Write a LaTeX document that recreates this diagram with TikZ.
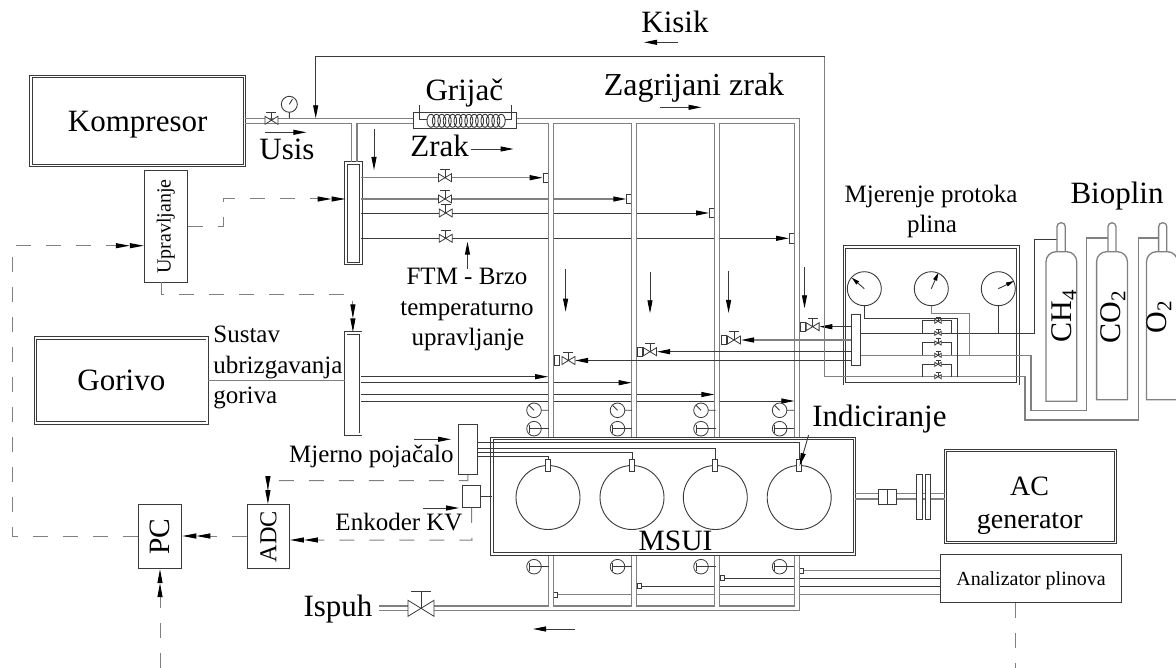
\documentclass[tikz,border=0pt]{standalone}
\usepackage{fontspec}
\setmainfont{Liberation Serif}
\usetikzlibrary{arrows.meta,positioning}
\definecolor{pipedark}{HTML}{3A3A3A}
\definecolor{pipegrey}{HTML}{808080}
\begin{document}
\begin{tikzpicture}[x=1pt,y=-1pt,
  box/.style={draw=pipedark,line width=0.9pt,fill=white,inner sep=0pt,text depth=0pt},
  dbox/.style={box,double,double distance=1.6pt,line width=0.8pt},
  pipe/.style={draw=pipedark,line width=0.9pt},
  gpipe/.style={draw=pipegrey,line width=1.3pt},
  wall/.style={draw=pipegrey,line width=1.2pt},
  flow/.style={draw=pipedark,line width=0.9pt,-{Triangle[length=13pt,width=5pt,black]}},
  gflow/.style={draw=pipegrey,line width=1.3pt,-{Triangle[length=13pt,width=5pt,black]}},
  sigline/.style={draw=pipegrey,line width=1pt,dash pattern=on 15pt off 15pt},
  sig/.style={sigline,-{Triangle[length=14pt,width=5pt,black]Triangle[length=14pt,width=5pt,black]}},
  port/.style={draw=pipedark,line width=0.8pt,fill=white,inner sep=0pt,minimum width=5pt,minimum height=9.5pt},
  aport/.style={port,minimum width=4pt,minimum height=5pt},
  cyl/.style={draw=pipedark,line width=0.9pt,circle,inner sep=0pt,minimum size=64pt},
  plug/.style={port,minimum width=5pt,minimum height=12.4pt},
  lab/.style={inner sep=0pt,anchor=base},
  big/.style={font=\fontsize{31}{36}\selectfont},
  mid/.style={font=\fontsize{25}{31}\selectfont},
  valve/.pic={
    \draw[pipedark,line width=0.8pt,fill=white] (-6.5,-4)--(6.5,4)--(6.5,-4)--(-6.5,4)--cycle;
    \draw[pipedark,line width=0.8pt] (0,0)--(0,-8.3) (-5,-8.3)--(5,-8.3);},
  ngauge/.pic={
    \draw[pipedark,line width=0.8pt,fill=white] (0,0) circle (7.3);
    \draw[pipedark,line width=0.8pt] (0,0)--(-5,-5) (7.3,0)--(14.5,0);},
  tgauge/.pic={
    \draw[pipedark,line width=0.8pt,fill=white] (0,0) circle (7.3);
    \draw[pipedark,line width=0.8pt] (-5,-4)--(-5,4) (-5,0)--(14.5,0);}]
  \useasboundingbox (0,0) rectangle (1176,668);
  \coordinate (topline) at (0,118.3);
  \coordinate (lowline) at (0,123.3);

  \node[dbox,minimum width=213.4pt,minimum height=89.3pt,big] (kompresor) at (137.7,121) {Kompresor};
  \node[dbox,minimum width=171.6pt,minimum height=85pt,big] (gorivo) at (121.4,380.5) {Gorivo};
  \node[box,minimum width=43.2pt,minimum height=111.3pt] (upravljanje) at (165.9,226.6) {\rotatebox{90}{\fontsize{20}{24}\selectfont Upravljanje}};
  \node[box,minimum width=103.2pt,minimum height=16.7pt] (grijac) at (465.2,120.6) {};
  \node[dbox,minimum width=15pt,minimum height=100.5pt] (aman) at (353.4,213.3) {};
  \node[dbox,minimum width=15pt,minimum height=101pt] (fman) at (353.2,383.6) {};
  \node[port] (p1) at (545.6,177.7) {};
  \node[port] (p2) at (629.2,199) {};
  \node[port] (p3) at (711.9,213) {};
  \node[port] (p4) at (791.9,238.3) {};
  \node[aport] (a1) at (801.6,570.4) {};
  \node[aport] (a2) at (722.2,578.3) {};
  \node[aport] (a3) at (639,586.3) {};
  \node[aport] (a4) at (555.4,594.7) {};
  \node[box,minimum width=181.3pt,minimum height=48.7pt,font=\fontsize{20}{24}\selectfont] (analizator) at (1031,578.4) {Analizator plinova};

  \draw[gpipe] (kompresor.east |- topline) -- (grijac.west |- topline);
  \draw[gpipe] (kompresor.east |- lowline) -- (351.8,123.3) -- (351.8,162.3);
  \draw[gpipe] (357,162.3) -- (357,123.3) -- (grijac.west |- lowline);
  \draw[gflow] (aman.east |- p1) -- (p1.west);
  \draw[gflow] (aman.east |- p2) -- (p2.west);
  \draw[flow] (aman.east |- p3) -- (p3.west);
  \draw[flow] (aman.east |- p4) -- (p4.west);
  \draw[gpipe] (gorivo.east) -- (fman.west |- gorivo.east);
  \draw[flow] (fman.east |- 0,376.7) -- (548.2,376.7);
  \draw[flow] (fman.east |- 0,382.7) -- (631.7,382.7);
  \draw[flow] (fman.east |- 0,394.5) -- (714.4,394.5);
  \draw[flow] (fman.east |- 0,401) -- (794.4,401);
  \draw[gpipe] (a1) -- (analizator.west |- a1);
  \draw[pipe] (a2) -- (analizator.west |- a2);
  \draw[pipe] (a3) -- (analizator.west |- a3);
  \draw[gpipe] (a4) -- (analizator.west |- a4);

  \fill[white] (548.2,124) rectangle (553.4,606);
  \fill[white] (631.7,124) rectangle (636.6,606);
  \fill[white] (714.4,124) rectangle (719.7,606);
  \fill[white] (794.4,124) rectangle (799.6,606);
  \draw[wall] (grijac.east |- topline) -- (799.6,118.3) -- (799.6,610.7) -- (434,610.7);
  \draw[wall] (grijac.east |- lowline) -- (548.2,123.3) -- (548.2,606) -- (434,606);
  \draw[wall] (553.4,123.3) rectangle (631.7,606);
  \draw[wall] (636.6,123.3) rectangle (714.4,606);
  \draw[wall] (719.7,123.3) rectangle (794.4,606);
  \draw[gpipe] (379,606) -- (408,606) (379,610.7) -- (408,610.7);
  \pic[scale=2] at (421,608.3) {valve};

  \pic at (271.4,120.3) {valve};
  \draw[pipedark,line width=0.9pt,fill=white] (289.3,104.3) circle (8);
  \draw[pipedark,line width=0.9pt] (289.3,104.3) -- (292.5,99) (289.3,112.3) -- (289.3,118.3);
  \pic at (445,177.7) {valve};
  \pic at (445,199) {valve};
  \pic at (445.7,213) {valve};
  \pic at (445.7,238.3) {valve};

  \draw[pipedark,line width=0.9pt] (419.6,105) -- (419.6,119.3) -- (427,119.3) (511.8,105) -- (511.8,119.3) -- (505,119.3);
  \draw[pipedark,line width=0.9pt] (431,120.8) ellipse (4 and 6.5) (436.4,120.8) ellipse (4 and 6.5) (441.8,120.8) ellipse (4 and 6.5) (447.2,120.8) ellipse (4 and 6.5) (452.6,120.8) ellipse (4 and 6.5)
    (458,120.8) ellipse (4 and 6.5) (463.4,120.8) ellipse (4 and 6.5) (468.8,120.8) ellipse (4 and 6.5) (474.2,120.8) ellipse (4 and 6.5) (479.6,120.8) ellipse (4 and 6.5)
    (485,120.8) ellipse (4 and 6.5) (490.4,120.8) ellipse (4 and 6.5) (495.8,120.8) ellipse (4 and 6.5) (501.2,120.8) ellipse (4 and 6.5);

  \pic at (534,410.3) {ngauge};
  \pic at (534,428.7) {tgauge};
  \pic at (534,566.7) {tgauge};
  \pic at (617.5,410.3) {ngauge};
  \pic at (617.5,428.7) {tgauge};
  \pic at (617.5,566.7) {tgauge};
  \pic at (701,410.3) {ngauge};
  \pic at (701,428.7) {tgauge};
  \pic at (701,566.7) {tgauge};
  \pic at (779.6,410.3) {ngauge};
  \pic at (779.6,428.7) {tgauge};
  \pic at (779.6,566.7) {tgauge};

  \node[dbox,minimum width=362.6pt,minimum height=115.3pt] (msui) at (673.3,496.3) {};
  \node[cyl] (c1) at (548,497.5) {};
  \node[cyl] (c2) at (632,497.5) {};
  \node[cyl] (c3) at (715.3,497.5) {};
  \node[cyl] (c4) at (799.2,497.5) {};
  \node[plug] (s1) at (548,465.5) {};
  \node[plug] (s2) at (632,465.5) {};
  \node[plug] (s3) at (715.3,465.5) {};
  \node[plug] (s4) at (799.2,465.5) {};
  \node[box,minimum width=19.7pt,minimum height=50pt] (pojacalo) at (468,449.3) {};
  \node[box,minimum width=17.9pt,minimum height=22pt] (enkoder) at (471.5,496.3) {};
  \node[box,minimum width=43.6pt,minimum height=64.4pt] (pc) at (160,536.5) {\rotatebox{90}{\fontsize{29.5}{34}\selectfont PC}};
  \node[box,minimum width=42.2pt,minimum height=63.7pt,right=64.6pt of pc] (adc) {\rotatebox{90}{\fontsize{24.3}{29}\selectfont ADC}};
  \draw[pipe] (pojacalo.east |- 0,442.7) -| (s4.north);
  \draw[pipe] (pojacalo.east |- 0,448.3) -| (s3.north);
  \draw[pipe] (pojacalo.east |- 0,452.3) -| (s2.north);
  \draw[pipe] (pojacalo.east |- 0,456.7) -| (s1.north);
  \draw[pipe] (enkoder.east) -- (msui.west |- enkoder);

  \node[dbox,minimum width=170pt,minimum height=92pt] (generator) at (1030.5,496.3) {};
  \draw[gpipe] (msui.east |- 0,493.7) -- (generator.west |- 0,493.7);
  \draw[gpipe] (msui.east |- 0,499) -- (generator.west |- 0,499);
  \node[box,minimum width=17.9pt,minimum height=14.7pt] (coupler) at (887.2,496.6) {};
  \draw[pipe] (coupler.north) -- (coupler.south);
  \node[box,minimum width=5.5pt,minimum height=44.7pt] (disca) at (919.2,496.6) {};
  \node[box,minimum width=5.5pt,minimum height=44.7pt] (discb) at (927.8,496.6) {};

  \node[dbox,minimum width=173.7pt,minimum height=136.7pt,fill=none] (mjerenje) at (931.2,315.4) {};
  \node[box,minimum width=9.4pt,minimum height=51.4pt] (gman) at (856,340) {};
  \node[port] (q1) at (802.6,326.7) {};
  \node[port] (q2) at (640,351.7) {};
  \node[port] (q3) at (723.5,340) {};
  \node[port] (q4) at (556.5,360.5) {};
  \draw[flow] (gman.west |- q1) -- (819.3,326.7);
  \draw[gflow] (gman.west |- q3) -- (741,340);
  \draw[flow] (gman.west |- q2) -- (657,351.7);
  \draw[flow] (gman.west |- q4) -- (575,360.5);
  \pic at (812.6,326.7) {valve};
  \pic at (734,340) {valve};
  \pic at (650,351.7) {valve};
  \pic at (568.4,360.5) {valve};

  \draw[pipe] (gman.east |- 0,333.3) -- (1034,333.3) -- (1034,239) -- (1057,239);
  \draw[gpipe] (gman.east |- 0,355.3) -- (1031,355.3) -- (1031,410.7) -- (1086.5,410.7) -- (1086.5,238) -- (1108,238);
  \draw[gpipe] (1158.6,238) -- (1138.4,238) -- (1138.4,420) -- (1025,420) -- (1025,376.7) -- (824.8,376.7) -- (824.8,56.3);
  \draw[flow] (824.8,56.3) -- (315.7,56.3) -- (315.7,118.3);

  \node[cyl,minimum size=34pt] (g1) at (864.3,288.7) {};
  \node[cyl,minimum size=34pt] (g2) at (931.3,288.7) {};
  \node[cyl,minimum size=34pt] (g3) at (998.3,288.7) {};
  \draw[pipedark,line width=0.9pt,-{Triangle[length=8pt,width=4pt,black]}] (g1.center) -- (851.7,277.7);
  \draw[pipedark,line width=0.9pt,-{Triangle[length=8pt,width=4pt,black]}] (g2.center) -- (938.3,272.7);
  \draw[pipedark,line width=0.9pt,-{Triangle[length=8pt,width=4pt,black]}] (g3.center) -- (1014,281);
  \draw[pipe] (g1.south) -- (864.3,318.3) -- (957.7,318.3) -- (957.7,376.7);
  \draw[gpipe] (g2.south) -- (931.3,313.7) -- (969.3,313.7) -- (969.3,355.3);
  \draw[pipe] (g3.south) -- (998.3,333.3);
  \draw[pipe] (922.3,333.3) -- (922.3,320) -- (951.7,320) -- (951.7,333.3);
  \draw[pipe] (922.3,355.3) -- (922.3,342.7) -- (951.7,342.7) -- (951.7,355.3);
  \draw[pipe] (922.3,376.7) -- (922.3,364.3) -- (951.7,364.3) -- (951.7,376.7);
  \pic[scale=.5] at (938,321.3) {valve};
  \pic[scale=.5] at (938,333.3) {valve};
  \pic[scale=.5] at (938,343) {valve};
  \pic[scale=.5] at (938,355.3) {valve};
  \pic[scale=.5] at (938,364.3) {valve};
  \pic[scale=.5] at (938,376.7) {valve};

  \draw[gpipe,rounded corners=10pt,fill=white] (1046,401.3) -- (1046,251.7) -- (1076.7,251.7) [sharp corners] -- (1076.7,401.3) -- cycle;
  \draw[gpipe,rounded corners=10pt,fill=white] (1096.6,399.7) -- (1096.6,251.7) -- (1127.4,251.7) [sharp corners] -- (1127.4,399.7) -- cycle;
  \draw[gpipe,rounded corners=10pt,fill=white] (1146.5,399.7) -- (1146.5,251.7) -- (1177.5,251.7) [sharp corners] -- (1177.5,399.7) -- cycle;
  \draw[gpipe,rounded corners=4pt] (1057,251.7) -- (1057,222.7) -- (1065.3,222.7) -- (1065.3,251.7);
  \draw[gpipe,rounded corners=4pt] (1108,251.7) -- (1108,222.7) -- (1116,222.7) -- (1116,251.7);
  \draw[gpipe,rounded corners=4pt] (1158.6,251.7) -- (1158.6,222.7) -- (1166.8,222.7) -- (1166.8,251.7);

  \draw[sig] (upravljanje.east) -- (223,226.6) -- (223,199) -- (aman.west |- 0,199);
  \draw[sig] (pc.west |- 0,536.7) -- (12.5,536.7) -- (12.5,245.7) -- (upravljanje.west |- 0,245.7);
  \draw[sig] (161.4,282.3) -- (161.4,294.3) -- (352.9,294.3) -- (352.9,332.3);
  \draw[sig] (pojacalo.south) -- (467.9,480.7) -- (267.9,480.7) -- (adc.north -| 267.9,0);
  \draw[sig] (enkoder.south) -- (472,540) -- (adc.east |- 0,540);
  \draw[sig] (adc.west |- 0,536) -- (pc.east |- 0,536);
  \draw[sig] (pc.south |- 0,668) -- (pc.south);
  \draw[sigline] (analizator.south -| 1015,0) -- (1015,668);

  \draw[flow] (678,42.3) -- (644,42.3);
  \draw[flow] (659.7,107.3) -- (701.5,107.3);
  \draw[flow] (265,132.3) -- (306.4,132.3);
  \draw[flow] (471.4,149) -- (513.6,149);
  \draw[flow] (374,129) -- (374,170);
  \draw[flow] (565.6,269.3) -- (565.6,311.7);
  \draw[flow] (650,271.7) -- (650,313.3);
  \draw[flow] (728.6,271) -- (728.6,313);
  \draw[flow] (804.5,266.7) -- (804.5,308.3);
  \draw[flow] (467.5,269.3) -- (467.5,241.7);
  \draw[flow] (574.5,629) -- (533,629);
  \draw[flow] (414,439.3) -- (451,439.3);
  \draw[flow] (423,508) -- (459,508);
  \draw[flow] (808.6,435) -- (799.6,466);

  \node[lab,big] (kisik) at (675,32.7) {Kisik};
  \node[lab,big] (grijaclab) at (464.3,100.7) {Grijač};
  \node[lab,big,font=\fontsize{32}{36}\selectfont] (zagrijani) at (694,96) {Zagrijani zrak};
  \node[lab,big] (usis) at (287,160) {Usis};
  \node[lab,big] (zrak) at (439.6,156.7) {Zrak};
  \node[lab,mid] (protok) at (931,202.7) {Mjerenje protoka};
  \node[lab,mid] (plina) at (932,232.3) {plina};
  \node[lab,big] (bioplin) at (1117,203.3) {Bioplin};
  \node[lab,mid] (ftm) at (467,284.3) {FTM - Brzo};
  \node[lab,mid] (temp) at (467,316) {temperaturno};
  \node[lab,mid] (uprav) at (467.9,346) {upravljanje};
  \node[lab,mid,anchor=base west] (sustav) at (213.2,343) {Sustav};
  \node[lab,mid,anchor=base west] (ubriz) at (213.2,373.3) {ubrizgavanja};
  \node[lab,mid,anchor=base west] (goriva) at (213.2,403.3) {goriva};
  \node[lab,mid] (pojlab) at (371.4,462.3) {Mjerno pojačalo};
  \node[lab,mid] (enklab) at (399,530.7) {Enkoder KV};
  \node[lab,big] (ispuh) at (338,616.7) {Ispuh};
  \node[lab,font=\fontsize{29.5}{34}\selectfont] (msuilab) at (675.5,550) {MSUI};
  \node[lab,big] (indic) at (879.4,426.7) {Indiciranje};
  \node[lab,font=\fontsize{28}{32}\selectfont] (aclab) at (1029.5,495) {AC};
  \node[lab,font=\fontsize{28}{32}\selectfont] (genlab) at (1029.7,528.3) {generator};
  \node[lab,rotate=90,font=\fontsize{30}{34}\selectfont] (ch) at (1071,316) {CH\textsubscript{4}};
  \node[lab,rotate=90,font=\fontsize{30}{34}\selectfont] (co) at (1120,317) {CO\textsubscript{2}};
  \node[lab,rotate=90,font=\fontsize{30}{34}\selectfont] (oo) at (1166,317) {O\textsubscript{2}};
\end{tikzpicture}
\end{document}
